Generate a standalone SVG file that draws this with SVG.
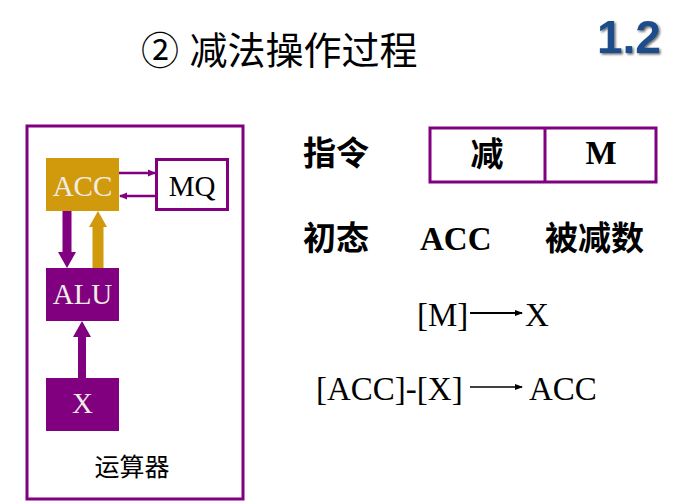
<svg xmlns="http://www.w3.org/2000/svg" width="690" height="502" viewBox="0 0 690 502">
<style>
.sans{font-family:"Liberation Sans","Noto Sans CJK SC",sans-serif;}
.pbox{fill:#800080;}
.obox{fill:none;stroke:#800080;stroke-width:3;}
.wt{fill:#f2ece6;font-family:"Liberation Serif",serif;font-size:29px;text-anchor:middle;}
.st{font-family:"Liberation Serif",serif;font-size:33px;fill:#000;}
.hd{font-size:33px;font-weight:bold;fill:#000;}
</style>
<defs>
<marker id="ah" markerWidth="8" markerHeight="8" refX="7" refY="4" orient="auto" markerUnits="userSpaceOnUse"><path d="M0,0.5 L8,4 L0,7.5 Z" fill="#800080"/></marker>
<marker id="ak" markerWidth="8" markerHeight="8" refX="7" refY="4" orient="auto" markerUnits="userSpaceOnUse"><path d="M0,1 L8,4 L0,7 Z" fill="#000"/></marker>
<filter id="sh" x="-10%" y="-10%" width="130%" height="130%"><feDropShadow dx="1.5" dy="1.5" stdDeviation="0.8" flood-color="#000" flood-opacity="0.6"/></filter>
</defs>
<rect width="690" height="502" fill="#fff"/>
<g id="title">
<text x="141" y="64" class="sans" font-size="38" fill="#000">② 减法操作过程</text>
<text x="597" y="53" font-family="Liberation Sans,sans-serif" font-weight="bold" font-size="46" fill="#1f4e8a" filter="url(#sh)">1.2</text>
</g>
<g id="arith-unit">
<rect x="27" y="126" width="216" height="373" class="obox"/>
<text x="132" y="476" class="sans" font-size="25" text-anchor="middle" fill="#000">运算器</text>
</g>
<g id="ACC"><rect x="46" y="158" width="73" height="53" fill="#d09a0c"/><text x="82.5" y="196" class="wt">ACC</text></g>
<g id="MQ"><rect x="156.5" y="159.5" width="71" height="50" fill="#fff" stroke="#800080" stroke-width="3"/><text x="192" y="196" font-family="Liberation Serif,serif" font-size="29" text-anchor="middle" fill="#000">MQ</text></g>
<g id="ALU"><rect x="46" y="268" width="73" height="53" class="pbox"/><text x="82.5" y="304" class="wt">ALU</text></g>
<g id="X"><rect x="46" y="378" width="73" height="53" class="pbox"/><text x="82.5" y="413" class="wt">X</text></g>
<g id="connectors">
<line x1="119" y1="173" x2="155" y2="173" stroke="#800080" stroke-width="2.5" marker-end="url(#ah)"/>
<line x1="155" y1="196" x2="120" y2="196" stroke="#800080" stroke-width="2.5" marker-end="url(#ah)"/>
<path d="M62.5,211 H71.5 V252 H76 L67,268 L58,252 H62.5 Z" fill="#800080"/>
<path d="M92.5,268 H103.5 V227 H107 L98,211 L89,227 H92.5 Z" fill="#d09a0c"/>
<path d="M78,378 H86 V337 H91 L82,321 L73,337 H78 Z" fill="#800080"/>
<line x1="470" y1="313" x2="522" y2="313" stroke="#000" stroke-width="2" marker-end="url(#ak)"/>
<line x1="470" y1="387" x2="522" y2="387" stroke="#000" stroke-width="1.6" marker-end="url(#ak)"/>
</g>
<g id="instruction">
<text x="303" y="165" class="sans hd">指令</text>
<rect x="430" y="128" width="226" height="54" class="obox"/>
<line x1="545" y1="128" x2="545" y2="182" stroke="#800080" stroke-width="3"/>
<text x="487" y="166" class="sans hd" text-anchor="middle">减</text>
<text x="601" y="164" font-family="Liberation Serif,serif" font-size="33" font-weight="bold" text-anchor="middle" fill="#000">M</text>
</g>
<g id="initial">
<text x="303" y="250" class="sans hd">初态</text>
<text x="420" y="250" font-family="Liberation Serif,serif" font-size="33" font-weight="bold" fill="#000">ACC</text>
<text x="545" y="250" class="sans hd">被减数</text>
</g>
<g id="steps">
<text x="417" y="326" class="st">[M]</text>
<text x="525" y="326" class="st">X</text>
<text x="316" y="400" class="st">[ACC]-[X]</text>
<text x="529" y="400" class="st">ACC</text>
</g>
</svg>
